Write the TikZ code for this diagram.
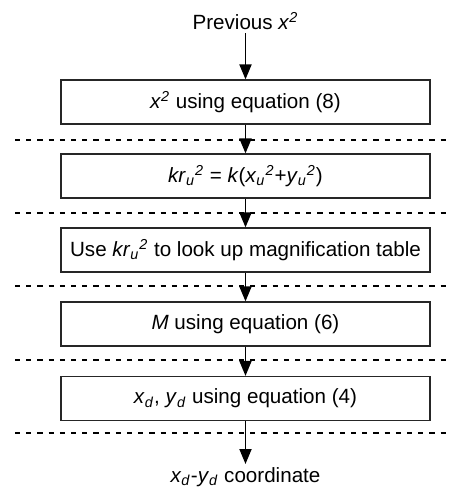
\documentclass[tikz,border=0pt]{standalone}
\usepackage{fontspec}
\setmainfont{Liberation Sans}
\usepackage{tikz}
\usetikzlibrary{arrows.meta, positioning}

\newcommand{\ivar}[1]{\textit{#1}}

\begin{document}
\begin{tikzpicture}[
    x=0.5pt, y=-0.5pt,
    every node/.style={font=\fontsize{10.3}{12.4}\selectfont},
    box/.style={rectangle, draw=black!85, line width=0.6pt, minimum width=184.5pt, minimum height=22pt, inner sep=0pt},
    label/.style={inner sep=1.5pt},
    arrow/.style={-{Triangle[length=7.5pt, width=6pt]}, line width=0.9pt},
    sep/.style={dashed, dash pattern=on 2.6pt off 3pt, line width=0.8pt}
]
\useasboundingbox (0,0) rectangle (451,488);

% Input and output labels
\node[label] (prev) at (245.5,21) {Previous \ivar{x}\textsuperscript{\ivar{2}}};
\node[label] (coord) at (245.5,477) {\ivar{x}\textsubscript{\ivar{d}}-\ivar{y}\textsubscript{\ivar{d}} coordinate};

% Processing steps
\node[box] (eqx) at (245.5,102) {\ivar{x}\textsuperscript{\ivar{2}} using equation (8)};
\node[box] (krsq) at (245.5,176) {\ivar{kr}\textsubscript{\ivar{u}}\textsuperscript{\ivar{2}} = \ivar{k}(\ivar{x}\textsubscript{\ivar{u}}\textsuperscript{\ivar{2}}+\ivar{y}\textsubscript{\ivar{u}}\textsuperscript{\ivar{2}})};
\node[box] (lookup) at (245.5,250) {Use \ivar{kr}\textsubscript{\ivar{u}}\textsuperscript{\ivar{2}} to look up magnification table};
\node[box] (mag) at (245.5,324) {\ivar{M} using equation (6)};
\node[box] (xyd) at (245.5,398.5) {\ivar{x}\textsubscript{\ivar{d}}, \ivar{y}\textsubscript{\ivar{d}} using equation (4)};

% Separators between stages
\foreach \y in {140,213,286,360,433}
    \draw[sep] (15,\y) -- (448,\y);

% Arrows
\draw[arrow] (prev) -- (eqx);
\draw[arrow] (eqx) -- (krsq);
\draw[arrow] (krsq) -- (lookup);
\draw[arrow] (lookup) -- (mag);
\draw[arrow] (mag) -- (xyd);
\draw[arrow] (xyd) -- (coord);

\end{tikzpicture}
\end{document}
